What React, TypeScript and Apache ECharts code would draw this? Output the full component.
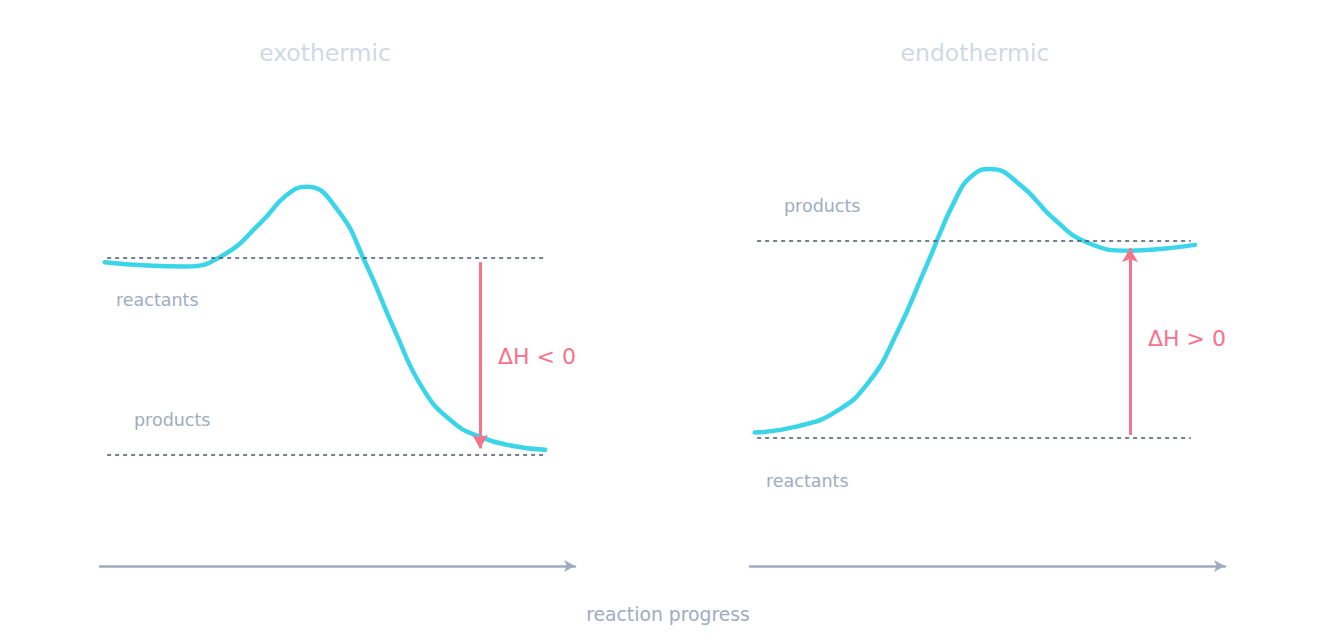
import React, { useEffect, useRef } from "react";
import * as echarts from "echarts";

// reaction progress (0..100) and enthalpy (0..100)
const exoProgress = [1, 10, 18, 26, 34, 39.3, 43.5, 50, 56, 62, 68, 74, 80, 87, 93.7];
const exoEnergy = [63.3, 62.6, 62.4, 64.8, 71.7, 77.3, 79, 74.2, 62.9, 49.2, 36.9, 30.2, 26.9, 25, 24.2];
const endoProgress = [1, 10, 18, 25, 31, 37, 43.5, 47, 50.5, 57, 64, 71, 80, 87, 93.7];
const endoEnergy = [27.8, 29.1, 32.1, 38.3, 48.7, 62.2, 76.9, 81.5, 82.7, 79.3, 72.3, 67.4, 65.7, 66.1, 66.9];

// [reactants, products]
const exoLevels = [64.2, 23.1];
const endoLevels = [26.7, 67.7];
const exoSpan = [1.5, 93.3];
const endoSpan = [1.5, 92.8];

// ΔH arrow: [progress, from, to]
const exoDelta = [80, 63.3, 24.5];
const endoDelta = [80, 27.3, 66.2];

const titles = ["exothermic", "endothermic"];
const deltaLabels = ["ΔH < 0", "ΔH > 0"];

const FONT = "DejaVu Sans";
const CURVE = "#3bd5ea";
const RED = "#f8738a";
const MUTED = "#9eadc1";
const DASH = "#4b5568";

const zip = (xs: number[], ys: number[]) => xs.map((x, i) => [x, ys[i]]);

const levelLines = (levels: number[], span: number[]) =>
  levels.map((v) => [{ coord: [span[0], v] }, { coord: [span[1], v] }]);

const App: React.FC = () => {
  const chartRef = useRef<HTMLDivElement>(null);

  useEffect(() => {
    const chart = echarts.init(chartRef.current!, null, { renderer: "svg" });

    const axisX = (gridIndex: number) => ({
      type: "value" as const,
      gridIndex,
      min: 0,
      max: 100,
      axisLine: {
        show: true,
        symbol: ["none", "arrow"],
        symbolSize: [9, 11],
        lineStyle: { color: MUTED, width: 2.5 },
      },
      axisTick: { show: false },
      axisLabel: { show: false },
      splitLine: { show: false },
    });
    const axisY = (gridIndex: number) => ({
      type: "value" as const,
      gridIndex,
      min: 0,
      max: 100,
      axisLine: { show: false },
      axisTick: { show: false },
      axisLabel: { show: false },
      splitLine: { show: false },
    });

    const levelSeries = (i: number, levels: number[], span: number[]) => ({
      type: "line" as const,
      xAxisIndex: i,
      yAxisIndex: i,
      data: [],
      z: 1,
      markLine: {
        silent: true,
        symbol: ["none", "none"],
        label: { show: false },
        lineStyle: { color: DASH, type: [4, 4], width: 1.5 },
        data: levelLines(levels, span),
      },
    });

    const curveSeries = (i: number, xs: number[], ys: number[]) => ({
      type: "line" as const,
      xAxisIndex: i,
      yAxisIndex: i,
      data: zip(xs, ys),
      smooth: true,
      showSymbol: false,
      z: 3,
      lineStyle: { color: CURVE, width: 4.5, cap: "round", join: "round" },
    });

    const deltaSeries = (i: number, d: number[]) => ({
      type: "line" as const,
      xAxisIndex: i,
      yAxisIndex: i,
      data: [],
      z: 4,
      markLine: {
        silent: true,
        symbol: ["none", "arrow"],
        symbolSize: [12, 14],
        label: { show: false },
        lineStyle: { color: RED, type: "solid", width: 3 },
        data: [[{ coord: [d[0], d[1]] }, { coord: [d[0], d[2]] }]],
      },
    });

    const text = (x: number, y: number, t: string, size: number, color: string, align = "left") => ({
      type: "text" as const,
      x,
      y,
      style: {
        text: t,
        fill: color,
        font: `${size}px "${FONT}"`,
        align,
        verticalAlign: "middle",
      },
    });

    chart.setOption({
      animation: false,
      textStyle: { fontFamily: FONT },
      grid: [
        { left: 100, top: 86, width: 475, height: 480 },
        { left: 750, top: 86, width: 475, height: 480 },
      ],
      xAxis: [axisX(0), axisX(1)],
      yAxis: [axisY(0), axisY(1)],
      series: [
        levelSeries(0, exoLevels, exoSpan),
        levelSeries(1, endoLevels, endoSpan),
        curveSeries(0, exoProgress, exoEnergy),
        curveSeries(1, endoProgress, endoEnergy),
        deltaSeries(0, exoDelta),
        deltaSeries(1, endoDelta),
      ],
      graphic: [
        text(325, 53, titles[0], 23.5, "#cfd9e4", "center"),
        text(975, 53, titles[1], 23.5, "#cfd9e4", "center"),
        text(116, 300, "reactants", 17.5, MUTED),
        text(134, 420, "products", 17.5, MUTED),
        text(784, 206, "products", 17.5, MUTED),
        text(766, 481, "reactants", 17.5, MUTED),
        text(498, 356, deltaLabels[0], 22, RED),
        text(1148, 338, deltaLabels[1], 22, RED),
        text(668, 614, "reaction progress", 18.8, MUTED, "center"),
      ],
    });

    return () => {
      chart.dispose();
    };
  }, []);

  return (
    <div
      ref={chartRef}
      style={{ position: "fixed", left: 0, top: 0, width: "1326px", height: "642px", background: "#fff" }}
    />
  );
};

export default App;
